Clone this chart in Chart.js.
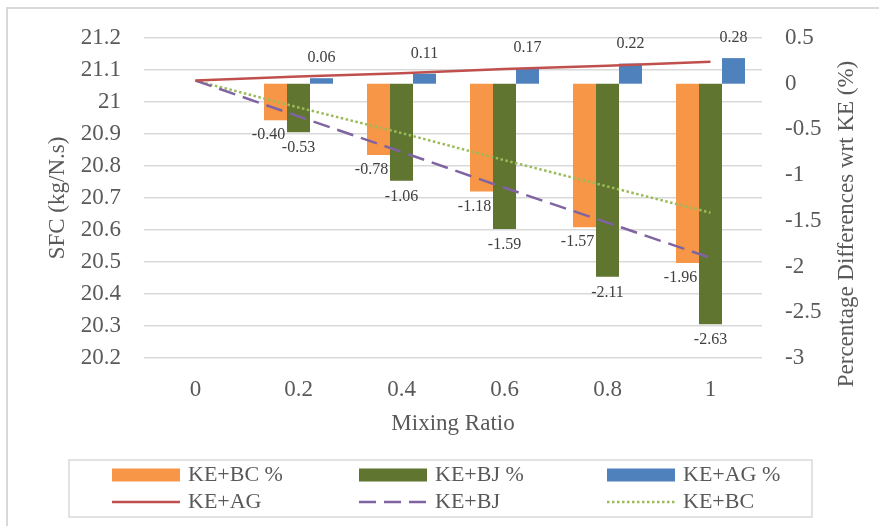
<!DOCTYPE html>
<html>
<head>
<meta charset="utf-8">
<title>SFC vs Mixing Ratio</title>
<script src="https://cdn.jsdelivr.net/npm/chart.js@4.4.1/dist/chart.umd.min.js"></script>
<style>
  body { margin: 0; background: #ffffff; }
  #wrap { position: relative; width: 879px; height: 526px; }
</style>
</head>
<body>
<div id="wrap">
  <canvas id="sfcChart" width="879" height="526"></canvas>
</div>
<script>
// Data
const mixingRatios = ["0", "0.2", "0.4", "0.6", "0.8", "1"];

// percentage differences wrt KE (right axis, bars)
const bcPercent = [null, -0.40, -0.78, -1.18, -1.57, -1.96];
const bjPercent = [null, -0.53, -1.06, -1.59, -2.11, -2.63];
const agPercent = [null, 0.06, 0.11, 0.17, 0.22, 0.28];

// SFC values in kg/N.s (left axis, lines)
const sfcAG = [21.067, 21.080, 21.090, 21.103, 21.113, 21.126];
const sfcBJ = [21.067, 20.955, 20.844, 20.732, 20.623, 20.513];
const sfcBC = [21.067, 20.983, 20.903, 20.818, 20.736, 20.654];

const FONT = "'Liberation Serif', 'DejaVu Serif', serif";
const TEXT_COLOR = "#595959";

Chart.defaults.font.family = FONT;
Chart.defaults.color = TEXT_COLOR;

const fmt = (v) => String(parseFloat(Number(v).toFixed(1)));

// outer frame of the chart
const framePlugin = {
  id: "frame",
  beforeDraw(chart) {
    const ctx = chart.ctx;
    ctx.save();
    ctx.fillStyle = "#ffffff";
    ctx.fillRect(0, 0, chart.width, chart.height);
    ctx.strokeStyle = "#d9d9d9";
    ctx.lineWidth = 2;
    ctx.strokeRect(7, 8, chart.width + 20, chart.height + 20);
    ctx.restore();
  },
};

// value labels on the bars
const barLabelPlugin = {
  id: "barLabels",
  afterDatasetsDraw(chart) {
    const ctx = chart.ctx;
    const offsets = { 0: { dx: -7, dy: 15 }, 1: { dx: 0, dy: 16 }, 2: { dx: 0, dy: -20 } };
    ctx.save();
    ctx.font = "16px " + FONT;
    ctx.fillStyle = "#404040";
    ctx.textAlign = "center";
    ctx.textBaseline = "middle";
    [0, 1, 2].forEach((di) => {
      const meta = chart.getDatasetMeta(di);
      const values = chart.data.datasets[di].data;
      meta.data.forEach((bar, i) => {
        const v = values[i];
        if (v === null || v === undefined) return;
        const o = offsets[di];
        ctx.fillText(v.toFixed(2), bar.x + o.dx, bar.y + o.dy);
      });
    });
    ctx.restore();
  },
};

// right axis title (reads bottom to top) and the boxed legend
const extrasPlugin = {
  id: "extras",
  afterDraw(chart) {
    const ctx = chart.ctx;
    ctx.save();
    ctx.translate(847, 224);
    ctx.rotate(-Math.PI / 2);
    ctx.font = "23px " + FONT;
    ctx.fillStyle = TEXT_COLOR;
    ctx.textAlign = "center";
    ctx.textBaseline = "middle";
    ctx.fillText("Percentage Differences wrt KE (%)", 0, 0);
    ctx.restore();

    // legend box
    ctx.save();
    ctx.strokeStyle = "#d9d9d9";
    ctx.lineWidth = 1.5;
    ctx.strokeRect(69, 460, 743, 57);
    const cols = [112, 359, 607];
    const rows = [475, 502];
    chart.data.datasets.forEach((ds, i) => {
      const x = cols[i % 3];
      const y = rows[Math.floor(i / 3)];
      if (ds.type === "line") {
        ctx.strokeStyle = ds.borderColor;
        ctx.lineWidth = ds.borderWidth;
        ctx.setLineDash(ds.borderDash || []);
        ctx.beginPath();
        ctx.moveTo(x, y);
        ctx.lineTo(x + 68, y);
        ctx.stroke();
        ctx.setLineDash([]);
      } else {
        ctx.fillStyle = ds.backgroundColor;
        ctx.fillRect(x, y - 6.5, 68, 13);
      }
      ctx.font = "22px " + FONT;
      ctx.fillStyle = TEXT_COLOR;
      ctx.textAlign = "left";
      ctx.textBaseline = "middle";
      ctx.fillText(ds.label, x + 76, y);
    });
    ctx.restore();
  },
};

const ctx = document.getElementById("sfcChart").getContext("2d");
new Chart(ctx, {
  type: "bar",
  data: {
    labels: mixingRatios,
    datasets: [
      { type: "bar", label: "KE+BC %", data: bcPercent, yAxisID: "y1", backgroundColor: "#F79646", order: 1 },
      { type: "bar", label: "KE+BJ %", data: bjPercent, yAxisID: "y1", backgroundColor: "#5F7530", order: 1 },
      { type: "bar", label: "KE+AG %", data: agPercent, yAxisID: "y1", backgroundColor: "#4F81BD", order: 1 },
      {
        type: "line", label: "KE+AG", data: sfcAG, yAxisID: "y",
        borderColor: "#C0504D", borderWidth: 2.5, pointRadius: 0, tension: 0, order: 0,
      },
      {
        type: "line", label: "KE+BJ", data: sfcBJ, yAxisID: "y",
        borderColor: "#8064A2", borderWidth: 2.5, borderDash: [17, 8], pointRadius: 0, tension: 0, order: 0,
      },
      {
        type: "line", label: "KE+BC", data: sfcBC, yAxisID: "y",
        borderColor: "#9BBB59", borderWidth: 2.5, borderDash: [2.5, 2.5], pointRadius: 0, tension: 0, order: 0,
      },
    ],
  },
  options: {
    responsive: false,
    animation: false,
    devicePixelRatio: 1,
    categoryPercentage: 0.67,
    barPercentage: 1.0,
    layout: { padding: { top: 38, bottom: 78, left: 0, right: 0 } },
    plugins: {
      legend: { display: false },
      tooltip: { enabled: false },
    },
    scales: {
      x: {
        grid: { display: false, drawTicks: false },
        border: { display: false },
        ticks: { font: { size: 23 }, padding: 18, color: TEXT_COLOR },
        title: { display: true, text: "Mixing Ratio", font: { size: 23 }, color: TEXT_COLOR, padding: { top: 0, bottom: 10 } },
        afterFit: (scale) => { scale.height = 90; },
      },
      y: {
        position: "left",
        min: 20.2,
        max: 21.2,
        grid: { color: "#d9d9d9", lineWidth: 1.5, drawTicks: false },
        border: { display: false },
        ticks: { stepSize: 0.1, font: { size: 23 }, padding: 23, color: TEXT_COLOR, callback: fmt },
        title: { display: true, text: "SFC (kg/N.s)", font: { size: 23 }, color: TEXT_COLOR, padding: { top: 44, bottom: 0 } },
        afterFit: (scale) => { scale.width = 144; },
      },
      y1: {
        position: "right",
        min: -3,
        max: 0.5,
        grid: { display: false, drawTicks: false },
        border: { display: false },
        ticks: { stepSize: 0.5, font: { size: 23 }, padding: 23, color: TEXT_COLOR, callback: fmt },
        afterFit: (scale) => { scale.width = 117; },
      },
    },
  },
  plugins: [framePlugin, barLabelPlugin, extrasPlugin],
});
</script>
</body>
</html>
